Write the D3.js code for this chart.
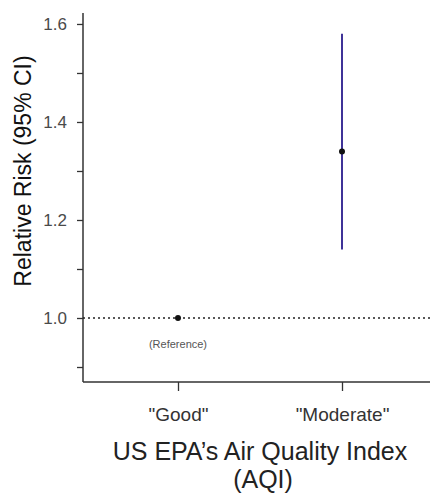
<!DOCTYPE html>
<html><head><meta charset="utf-8">
<script src="https://cdn.jsdelivr.net/npm/d3@7"></script>
<style>body{margin:0;background:#fff;} text{font-family:Arial,"Liberation Sans",sans-serif;}</style>
</head><body>
<svg id="c" width="430" height="495"></svg>
<script>
const categories = ['"Good"', '"Moderate"'];
const estimates = [1.0, 1.34];
const lower = [null, 1.14];
const upper = [null, 1.58];
const yTicks = [0.9, 1.0, 1.1, 1.2, 1.3, 1.4, 1.5, 1.6];
const yLabels = [1.0, 1.2, 1.4, 1.6];

(function(){
const svg = d3.select("#c");
const mL = 83, mR = 430, mT = 13, mB = 382;
const y = d3.scaleLinear().domain([0.8694, 1.6224]).range([mB, mT]);
const x = d3.scalePoint().domain(categories).range([178, 342]);

// y axis
const yAxis = d3.axisLeft(y).tickValues(yTicks).tickSize(6).tickPadding(10)
  .tickFormat(d => yLabels.some(v => Math.abs(v - d) < 1e-9) ? d3.format(".1f")(d) : "");
const gy = svg.append("g").attr("transform", `translate(${mL},0)`).call(yAxis);
gy.select(".domain").attr("d", `M0,${mT}V${mB}`).attr("stroke", "#333").attr("stroke-width", 1.5);
gy.selectAll(".tick line").attr("stroke", "#333").attr("stroke-width", 1.3);
gy.selectAll(".tick text").attr("fill", "#4a4a4a").style("font-size", "17px");

// x axis
const xAxis = d3.axisBottom(x).tickSize(9).tickPadding(17);
const gx = svg.append("g").attr("transform", `translate(0,${mB})`).call(xAxis);
gx.select(".domain").attr("d", `M${mL},0H${mR}`).attr("stroke", "#333").attr("stroke-width", 1.5);
gx.selectAll(".tick line").attr("stroke", "#333").attr("stroke-width", 1.3);
gx.selectAll(".tick text").attr("fill", "#333").style("font-size", "19px");

// reference line
svg.append("line").attr("x1", mL).attr("x2", mR).attr("y1", y(1.0)).attr("y2", y(1.0))
  .attr("stroke", "#222").attr("stroke-width", 1.5).attr("stroke-dasharray", "2,3");

// CI lines
categories.forEach((c, i) => {
  if (lower[i] != null) {
    svg.append("line").attr("x1", x(c)).attr("x2", x(c)).attr("y1", y(lower[i])).attr("y2", y(upper[i]))
      .attr("stroke", "#3f3398").attr("stroke-width", 2);
  }
});
// points
svg.selectAll("circle.pt").data(estimates).join("circle").attr("class", "pt")
  .attr("cx", (d, i) => x(categories[i])).attr("cy", d => y(d)).attr("r", 3).attr("fill", "#111");

svg.append("text").attr("x", x(categories[0])).attr("y", 348).attr("text-anchor", "middle")
  .style("font-size", "11px").attr("fill", "#555").text("(Reference)");

// titles
svg.append("text").attr("transform", `translate(31,171) rotate(-90)`).attr("text-anchor", "middle")
  .style("font-size", "23px").attr("fill", "#111").text("Relative Risk (95% CI)");
svg.append("text").attr("x", 260).attr("y", 460).attr("text-anchor", "middle")
  .style("font-size", "25px").attr("fill", "#222").text("US EPA’s Air Quality Index");
svg.append("text").attr("x", 263).attr("y", 488).attr("text-anchor", "middle")
  .style("font-size", "25px").attr("fill", "#222").text("(AQI)");
})();
</script>
</body></html>
